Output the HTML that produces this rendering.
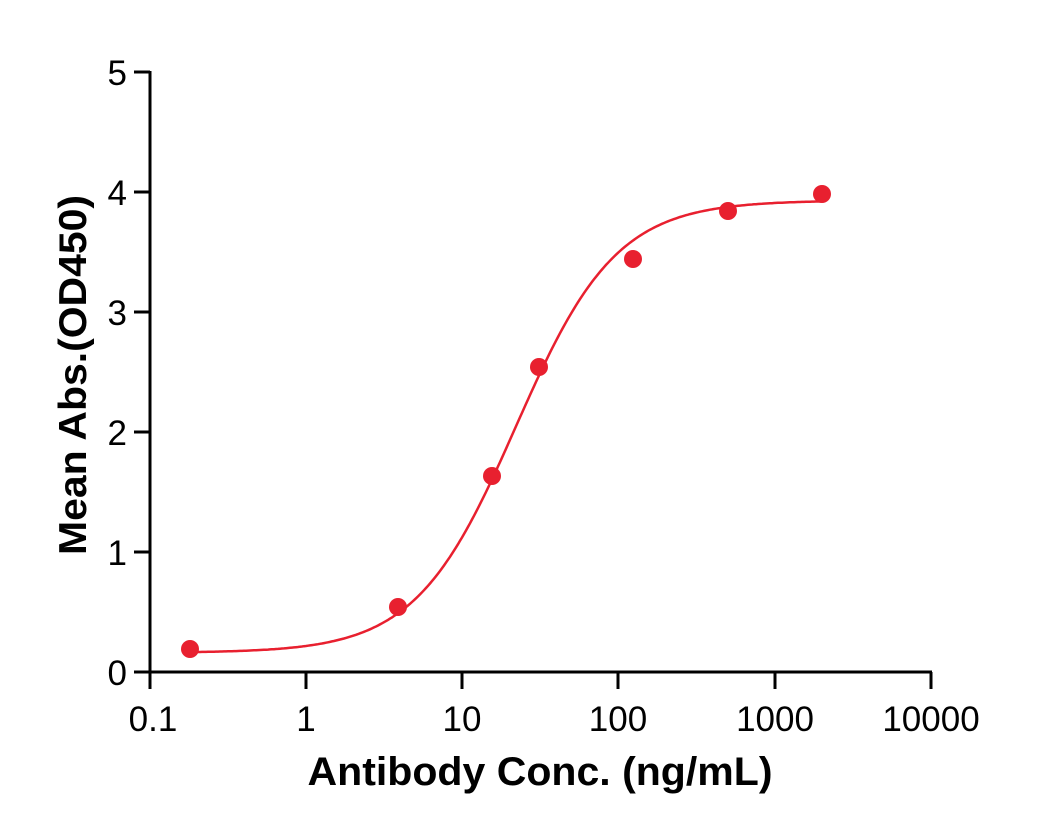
<!DOCTYPE html>
<html><head><meta charset="utf-8"><style>body{margin:0;background:#fff}svg{display:block}</style></head>
<body>
<svg id="s" width="1052" height="837" xmlns="http://www.w3.org/2000/svg" font-family="Liberation Sans, Arial, sans-serif">
<g stroke="#000" stroke-width="3" fill="none">
<path d="M150,71 V673 M134,672 H932"/>
<path d="M134,72 H150 M134,192 H150 M134,312 H150 M134,432 H150 M134,552 H150"/>
<path d="M150,672 V689 M306,672 V689 M462,672 V689 M618,672 V689 M775,672 V689 M931,672 V689"/>
</g>
<g font-size="35" text-anchor="end" fill="#000">
<text x="127" y="85">5</text><text x="127" y="205">4</text><text x="127" y="325">3</text>
<text x="127" y="445">2</text><text x="127" y="565">1</text><text x="127" y="685">0</text>
</g>
<g font-size="35" text-anchor="middle" fill="#000">
<text x="153" y="731">0.1</text><text x="306" y="731">1</text><text x="462" y="731">10</text>
<text x="618" y="731">100</text><text x="775" y="731">1000</text><text x="931" y="731">10000</text>
</g>
<text x="540" y="785" font-size="40" font-weight="bold" text-anchor="middle" textLength="465" lengthAdjust="spacingAndGlyphs">Antibody Conc. (ng/mL)</text>
<text transform="translate(86,375) rotate(-90)" font-size="39" font-weight="bold" text-anchor="middle" textLength="360" lengthAdjust="spacingAndGlyphs">Mean Abs.(OD450)</text>
<path id="c" fill="none" stroke="#e8202f" stroke-width="2.5"/>
<g fill="#e8202f">
<circle cx="190" cy="649" r="9"/><circle cx="398" cy="607" r="9"/><circle cx="492" cy="476" r="9"/>
<circle cx="539" cy="367" r="9"/><circle cx="633" cy="259" r="9"/><circle cx="728" cy="211" r="9"/>
<circle cx="822" cy="194" r="9"/>
</g>
</svg>
<script>
var a=0.16,d=3.93,c=22,b=1.35,p="";
for(var px=190;px<=822;px+=2){var lx=-1+(px-150)/156.2,x=Math.pow(10,lx);
var y=d+(a-d)/(1+Math.pow(x/c,b));p+=(p?"L":"M")+px+","+(672-y*120).toFixed(1);}
document.getElementById("c").setAttribute("d",p);
</script>
</body></html>
